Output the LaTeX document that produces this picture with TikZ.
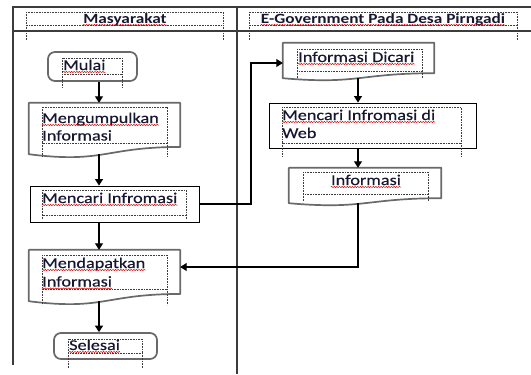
\documentclass[tikz,border=0pt]{standalone}
\usepackage{fontspec}
\setmainfont{Carlito}[FakeStretch=1.22]
\newfontfamily\bodyfont{Carlito}[FakeStretch=1.22, FakeBold=0.35]
\usetikzlibrary{arrows.meta,calc,decorations.pathmorphing}

\definecolor{inkc}{RGB}{22,22,48}
\definecolor{lanec}{RGB}{60,60,60}
\definecolor{shapec}{RGB}{105,105,105}
\definecolor{framec}{RGB}{60,60,60}

\tikzset{
  lane/.style={draw=lanec, line width=1.1bp},
  roundbox/.style={draw=shapec, line width=1.7bp, rounded corners=7bp, inner sep=0pt},
  procbox/.style={draw=black, line width=0.9bp, inner sep=0pt},
  docbox/.style={draw=none, inner sep=0pt},
  docline/.style={draw=shapec, line width=1.7bp, line join=round},
  arr/.style={draw=black, line width=1.1bp, -{Triangle[width=8bp,length=6.5bp]}},
  lbl/.style={inner sep=0pt, anchor=base west, text=inkc, font=\bodyfont\fontsize{15}{18}\selectfont},
  hdr/.style={inner sep=0pt, anchor=base, text=inkc, font=\bfseries\fontsize{14.2}{17}\selectfont},
  tf/.style={draw=framec, line width=0.7bp, dash pattern=on 0.8bp off 0.8bp},
  wavy/.style={draw=red!85!black, line width=0.5bp, decorate,
    decoration={snake, amplitude=0.6bp, segment length=2.6bp}},
}

% dotted text frame with its side lines running on below
\newcommand{\txtframe}[5]{%
  \draw[tf] (#1,#2) rectangle (#3,#4);
  \draw[tf] (#1,#4) -- (#1,#5) (#3,#4) -- (#3,#5);}
% wavy underline below a one-line label
\newcommand{\squig}[1]{%
  \draw[wavy] ([yshift=-2bp]#1.base west) -- ([yshift=-2bp]#1.base east);}
% document outline drawn round a named node
\newcommand{\docpath}[1]{%
  \draw[docline] (#1.north west) -- (#1.north east)
    -- ($(#1.north east)!0.859!(#1.south east)$)
    .. controls ($(#1.north)!0.859!(#1.south)$) and ($(#1.north)!1.186!(#1.south)$)
    .. (#1.south west) -- cycle;}

\begin{document}
\begin{tikzpicture}[x=1bp,y=-1bp]
\useasboundingbox (0,0) rectangle (531,374);
\fill[white] (0,0) rectangle (531,374);

% swimlane frame
\draw[lane] (13,365) -- (13,7) -- (531,7);
\draw[lane] (13,31) -- (531,31);
\draw[lane] (237,7) -- (237,374);

% lane headers
\txtframe{26}{12}{223}{25}{40}
\txtframe{249}{12}{517}{25}{40}
\node[hdr] (h1) at (125,23) {Masyarakat};
\node[hdr] (h2) at (383,23) {E-Government Pada Desa Pirngadi};
\squig{h1}
\squig{h2}

% column guides for the vertical connectors
\coordinate (colL) at (99,0);
\coordinate (colR) at (358,0);
\coordinate (bendA) at (251,0);

% left lane shapes
\node[roundbox, minimum width=89bp, minimum height=29bp] (mulai) at (92.5,66.5) {};
\node[docbox, minimum width=151bp, minimum height=51bp] (kumpul) at (104.5,128.5) {};
\docpath{kumpul}
\node[procbox, minimum width=169bp, minimum height=36bp] (cari) at (114.5,204) {};
\node[docbox, minimum width=151bp, minimum height=51bp] (dapat) at (104.5,275.5) {};
\docpath{dapat}
\node[roundbox, minimum width=103bp, minimum height=26bp] (selesai) at (105.5,346) {};

% right lane shapes
\node[docbox, minimum width=151bp, minimum height=35bp] (dicari) at (358.5,60.5) {};
\docpath{dicari}
\node[procbox, minimum width=207bp, minimum height=45bp] (web) at (372.5,125.5) {};
\node[docbox, minimum width=152bp, minimum height=35bp] (info) at (365,185.5) {};
\docpath{info}

% text frames
\txtframe{62}{58}{122}{74}{88}
\txtframe{42}{107}{167}{143}{157}
\txtframe{42}{190}{186}{215}{219}
\txtframe{42}{255}{167}{289}{305}
\txtframe{68}{339}{142}{353}{368}
\txtframe{297}{49}{422}{71}{79}
\txtframe{282}{107}{461}{143}{157}
\txtframe{303}{172}{428}{194}{202}

% labels
\node[lbl] (t1) at (63,70) {Mulai};
\node[lbl] (t2a) at (42,123) {Mengumpulkan};
\node[lbl] (t2b) at (42,140.5) {Informasi};
\node[lbl] (t3) at (42,203) {Mencari Infromasi};
\node[lbl] (t4a) at (42,268) {Mendapatkan};
\node[lbl] (t4b) at (42,286.5) {Informasi};
\node[lbl] (t5) at (69,350) {Selesai};
\node[lbl] (t6) at (298,62) {Informasi Dicari};
\node[lbl] (t7a) at (282,120) {Mencari Infromasi di};
\node[lbl] (t7b) at (282,138) {Web};
\node[lbl, anchor=base] (t8) at (366,185) {Informasi};
\foreach \t in {t1,t2a,t3,t4a,t4b,t5,t6,t7a,t8} {\squig{\t}}

% connectors
\draw[arr] (mulai.south -| colL) -- (kumpul.north -| colL);
\draw[arr] (kumpul.south -| colL) -- (cari.north -| colL);
\draw[arr] (cari.south -| colL) -- (dapat.north -| colL);
\draw[arr] (dapat.south -| colL) -- (selesai.north -| colL);
\draw[arr] (cari.east) -- (cari.east -| bendA) |- ([yshift=-2.5bp]dicari.west);
\draw[arr] (dicari.south -| colR) -- (web.north -| colR);
\draw[arr] (web.south -| colR) -- (info.north -| colR);
\draw[arr] (info.south -| colR) |- ([yshift=8.5bp]dapat.east);
\end{tikzpicture}
\end{document}
